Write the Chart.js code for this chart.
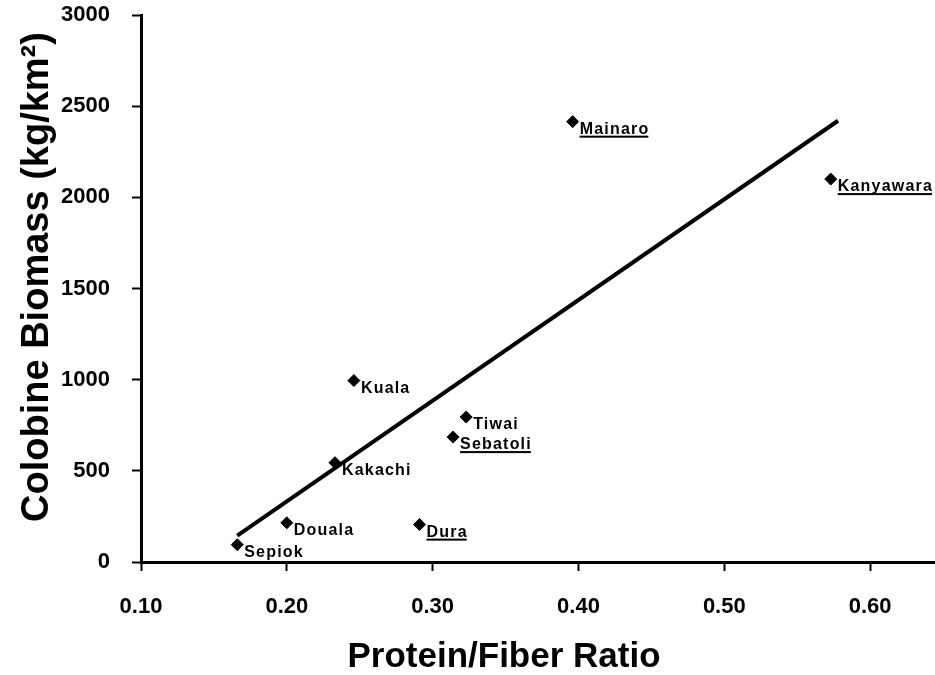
<!DOCTYPE html>
<html>
<head>
<meta charset="utf-8">
<script src="https://cdn.jsdelivr.net/npm/chart.js@4"></script>
<style>
  html, body { margin: 0; padding: 0; background: #fff; }
  #wrap { width: 935px; height: 675px; position: relative; }
</style>
</head>
<body>
<div id="wrap"><canvas id="chart"></canvas></div>
<script>
// sites, protein/fiber ratio and colobine biomass
const siteNames = ['Sepiok', 'Douala', 'Kakachi', 'Kuala', 'Dura', 'Tiwai', 'Sebatoli', 'Mainaro', 'Kanyawara'];
const ratioValues = [0.166, 0.200, 0.233, 0.246, 0.291, 0.323, 0.314, 0.396, 0.573];
const biomassValues = [95, 215, 545, 995, 205, 795, 685, 2415, 2100];
const underlinedSites = ['Dura', 'Sebatoli', 'Mainaro', 'Kanyawara'];

// regression line endpoints
const trendX = [0.166, 0.578];
const trendY = [145, 2420];

const xTickValues = [0.1, 0.2, 0.3, 0.4, 0.5, 0.6];
const yTickValues = [0, 500, 1000, 1500, 2000, 2500, 3000];

const FONT = "'Liberation Sans', Arial, sans-serif";

const siteLabels = {
  id: 'siteLabels',
  afterDatasetsDraw(chart) {
    const { ctx, scales: { x, y } } = chart;
    ctx.save();
    ctx.font = 'bold 16px ' + FONT;
    ctx.letterSpacing = '1.2px';
    ctx.fillStyle = '#000';
    ctx.textAlign = 'left';
    ctx.textBaseline = 'alphabetic';
    siteNames.forEach((name, i) => {
      const px = x.getPixelForValue(ratioValues[i]) + 7;
      const py = y.getPixelForValue(biomassValues[i]) + 12;
      ctx.fillText(name, px, py);
      if (underlinedSites.includes(name)) {
        const w = ctx.measureText(name).width - 1;
        ctx.fillRect(px, py + 2, w, 2);
      }
    });
    ctx.restore();
  }
};

const axisTitles = {
  id: 'axisTitles',
  afterDraw(chart) {
    const { ctx } = chart;
    ctx.save();
    ctx.fillStyle = '#000';
    ctx.textAlign = 'center';
    ctx.textBaseline = 'alphabetic';
    ctx.font = 'bold 35px ' + FONT;
    ctx.fillText('Protein/Fiber Ratio', 504, 667);
    ctx.translate(48, 277);
    ctx.rotate(-Math.PI / 2);
    ctx.font = 'bold 38px ' + FONT;
    ctx.fillText('Colobine Biomass (kg/km\u00B2)', 0, 0);
    ctx.restore();
  }
};

new Chart(document.getElementById('chart'), {
  type: 'scatter',
  data: {
    datasets: [
      {
        type: 'line',
        data: trendX.map((v, i) => ({ x: v, y: trendY[i] })),
        borderColor: '#000',
        borderWidth: 4,
        pointRadius: 0,
        fill: false
      },
      {
        data: ratioValues.map((v, i) => ({ x: v, y: biomassValues[i] })),
        pointStyle: 'rectRot',
        pointRadius: 6,
        backgroundColor: '#000',
        borderColor: '#000'
      }
    ]
  },
  options: {
    responsive: true,
    maintainAspectRatio: false,
    animation: false,
    layout: { autoPadding: false, padding: { top: 15, right: 0, bottom: 0, left: 0 } },
    plugins: { legend: { display: false }, tooltip: { enabled: false } },
    scales: {
      x: {
        type: 'linear',
        min: 0.1,
        max: 0.6445,
        afterBuildTicks: s => { s.ticks = xTickValues.map(v => ({ value: v })); },
        afterFit: s => { s.height = 113; s.paddingLeft = 0; s.paddingRight = 0; },
        ticks: {
          color: '#000',
          padding: 23,
          font: { family: FONT, size: 22, weight: 'bold' },
          callback: v => v.toFixed(2)
        },
        grid: { drawOnChartArea: false, tickLength: 9, tickWidth: 2, tickColor: '#000' },
        border: { color: '#000', width: 3 }
      },
      y: {
        min: 0,
        max: 3000,
        afterBuildTicks: s => { s.ticks = yTickValues.map(v => ({ value: v })); },
        afterFit: s => { s.width = 141; s.paddingTop = 0; s.paddingBottom = 0; },
        ticks: {
          color: '#000',
          padding: 22,
          font: { family: FONT, size: 22, weight: 'bold' },
          callback: v => String(v)
        },
        grid: { drawOnChartArea: false, tickLength: 9, tickWidth: 2, tickColor: '#000' },
        border: { color: '#000', width: 3 }
      }
    }
  },
  plugins: [siteLabels, axisTitles]
});
</script>
</body>
</html>
